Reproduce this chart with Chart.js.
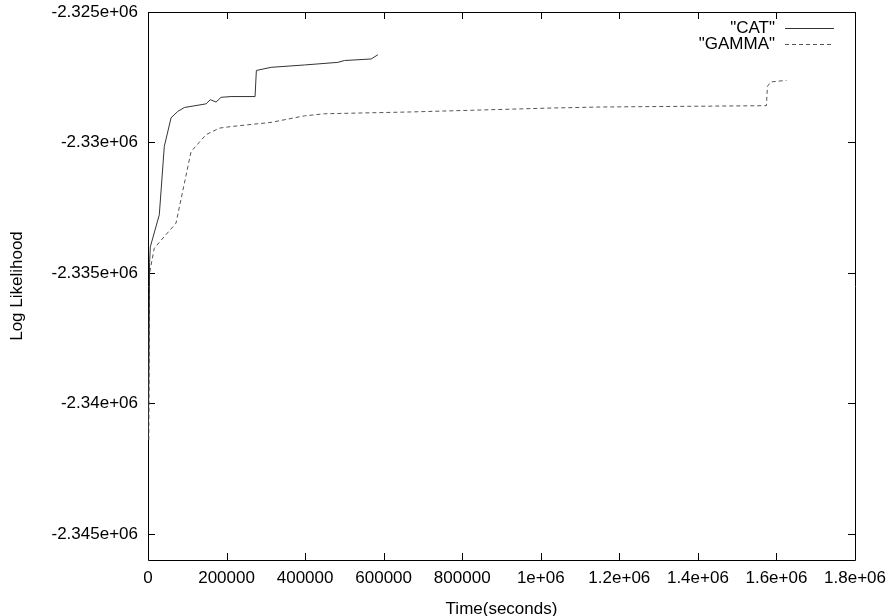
<!DOCTYPE html>
<html>
<head>
<meta charset="utf-8">
<script src="https://cdn.jsdelivr.net/npm/chart.js@4/dist/chart.umd.min.js"></script>
<style>
  html, body { margin: 0; padding: 0; background: #ffffff; }
  canvas { display: block; }
</style>
</head>
<body>
<canvas id="c" width="893" height="616"></canvas>
<script>
// ---- data ----
const catTime = [1000, 4000, 5900, 28800, 41500, 58600, 75700, 92500, 147800, 158700, 173300, 186000, 211500, 272600, 275900, 313400, 398200, 483300, 500100, 568200, 585200];
const catLL   = [-2341300, -2334600, -2334000, -2332770, -2330150, -2329060, -2328810, -2328660, -2328520, -2328360, -2328450, -2328270, -2328240, -2328240, -2327240, -2327120, -2327030, -2326930, -2326860, -2326800, -2326640];

const gammaTime = [2000, 4000, 16000, 71300, 109600, 147800, 181700, 211500, 313400, 398200, 449200, 670100, 1026800, 1154200, 1574500, 1577100, 1585500, 1625500];
const gammaLL   = [-2341400, -2335000, -2334050, -2333090, -2330350, -2329700, -2329450, -2329390, -2329230, -2328980, -2328900, -2328830, -2328680, -2328640, -2328590, -2327850, -2327680, -2327620];

const seriesNames = ['"CAT"', '"GAMMA"'];

const xTickValues = [0, 200000, 400000, 600000, 800000, 1000000, 1200000, 1400000, 1600000, 1800000];
const xTickLabels = ["0", "200000", "400000", "600000", "800000", "1e+06", "1.2e+06", "1.4e+06", "1.6e+06", "1.8e+06"];
const yTickValues = [-2345000, -2340000, -2335000, -2330000, -2325000];
const yTickLabels = ["-2.345e+06", "-2.34e+06", "-2.335e+06", "-2.33e+06", "-2.325e+06"];

const xMin = 0, xMax = 1800000;
const yMin = -2346000, yMax = -2325000;

const xTitle = "Time(seconds)";
const yTitle = "Log Likelihood";

// ---- build datasets ----
const toPts = (xs, ys) => xs.map((x, i) => ({ x: x, y: ys[i] }));

const FONT = "'Liberation Sans', Arial, Helvetica, sans-serif";
const FSIZE = 17;

const frameAndTicks = {
  id: 'frameAndTicks',
  beforeDatasetsDraw(chart) {
    const { ctx, chartArea: a, scales } = chart;
    ctx.save();
    ctx.strokeStyle = '#000';
    ctx.lineWidth = 1;
    ctx.beginPath();
    ctx.rect(Math.round(a.left) + 0.5, Math.round(a.top) + 0.5, Math.round(a.right - a.left), Math.round(a.bottom - a.top));
    ctx.stroke();
    const L = 7;
    ctx.beginPath();
    xTickValues.forEach(v => {
      const px = Math.round(scales.x.getPixelForValue(v)) + 0.5;
      ctx.moveTo(px, a.bottom); ctx.lineTo(px, a.bottom - L);
      ctx.moveTo(px, a.top); ctx.lineTo(px, a.top + L);
    });
    yTickValues.forEach(v => {
      const py = Math.round(scales.y.getPixelForValue(v)) + 0.5;
      ctx.moveTo(a.left, py); ctx.lineTo(a.left + L, py);
      ctx.moveTo(a.right, py); ctx.lineTo(a.right - L, py);
    });
    ctx.stroke();
    ctx.restore();
  }
};

const keyPlugin = {
  id: 'keyPlugin',
  afterDatasetsDraw(chart) {
    const { ctx, chartArea: a } = chart;
    ctx.save();
    ctx.font = FSIZE + 'px ' + FONT;
    ctx.textAlign = 'right';
    ctx.textBaseline = 'middle';
    chart.data.datasets.forEach((ds, i) => {
      const y = a.top + 16 + i * 16;
      ctx.fillStyle = '#000';
      ctx.fillText(ds.label, a.right - 80, y);
      ctx.strokeStyle = ds.borderColor;
      ctx.lineWidth = 1;
      ctx.setLineDash(ds.borderDash || []);
      ctx.beginPath();
      ctx.moveTo(a.right - 70, Math.round(y) + 0.5);
      ctx.lineTo(a.right - 21, Math.round(y) + 0.5);
      ctx.stroke();
    });
    ctx.restore();
  }
};

new Chart(document.getElementById('c'), {
  type: 'scatter',
  data: {
    datasets: [
      {
        label: seriesNames[0],
        data: toPts(catTime, catLL),
        showLine: true,
        borderColor: '#333333',
        borderWidth: 1,
        pointRadius: 0,
        fill: false,
        tension: 0
      },
      {
        label: seriesNames[1],
        data: toPts(gammaTime, gammaLL),
        showLine: true,
        borderColor: '#555555',
        borderWidth: 1,
        borderDash: [4, 3],
        pointRadius: 0,
        fill: false,
        tension: 0
      }
    ]
  },
  options: {
    responsive: false,
    animation: false,
    devicePixelRatio: 1,
    layout: { padding: { top: 12, right: 38, left: 0, bottom: 0 } },
    plugins: {
      legend: { display: false },
      tooltip: { enabled: false }
    },
    scales: {
      x: {
        type: 'linear',
        min: xMin, max: xMax,
        grid: { display: false, drawTicks: false },
        border: { display: false },
        afterBuildTicks: (s) => { s.ticks = xTickValues.map(v => ({ value: v })); },
        afterFit: (s) => { s.height = 56; s.paddingLeft = 0; s.paddingRight = 0; },
        ticks: {
          padding: 8,
          maxRotation: 0, minRotation: 0, autoSkip: false,
          color: '#000',
          font: { family: FONT, size: FSIZE },
          callback: (v) => { const i = xTickValues.indexOf(v); return i >= 0 ? xTickLabels[i] : ''; }
        },
        title: {
          display: true, text: xTitle, color: '#000',
          font: { family: FONT, size: FSIZE },
          padding: { top: 0, bottom: -4 }
        }
      },
      y: {
        type: 'linear',
        min: yMin, max: yMax,
        grid: { display: false, drawTicks: false },
        border: { display: false },
        afterBuildTicks: (s) => { s.ticks = yTickValues.map(v => ({ value: v })); },
        afterFit: (s) => { s.width = 148; s.paddingTop = 0; s.paddingBottom = 0; },
        ticks: {
          padding: 10,
          autoSkip: false,
          color: '#000',
          font: { family: FONT, size: FSIZE },
          callback: (v) => { const i = yTickValues.indexOf(v); return i >= 0 ? yTickLabels[i] : ''; }
        },
        title: {
          display: true, text: yTitle, color: '#000',
          font: { family: FONT, size: FSIZE },
          padding: { top: 7, bottom: 0 }
        }
      }
    }
  },
  plugins: [frameAndTicks, keyPlugin]
});
</script>
</body>
</html>
